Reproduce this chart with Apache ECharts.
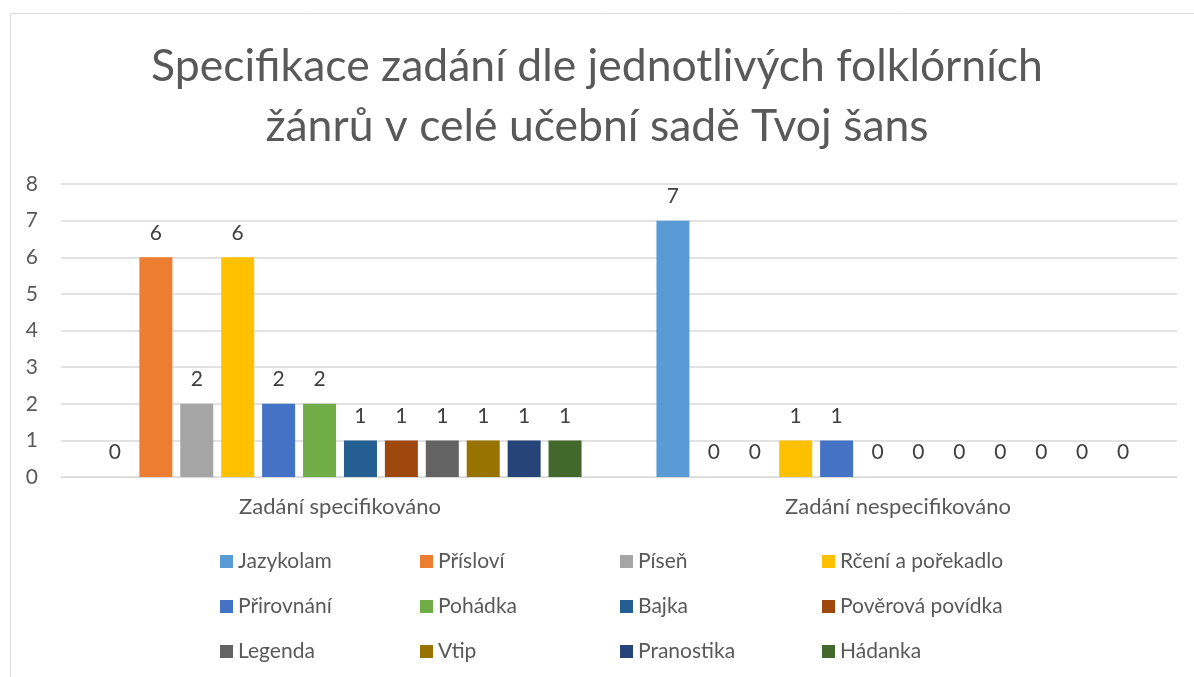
<!DOCTYPE html>
<html>
  <head>
    <meta charset="UTF-8" />
    <title>Specifikace zadání</title>
    <script src="https://cdn.jsdelivr.net/npm/echarts@6.0.0/dist/echarts.min.js"></script>
    <style>
      html, body { margin: 0; padding: 0; background: #fff; }
    </style>
  </head>
  <body>
    <div id="chart" style="width: 1194px; height: 677px"></div>
  </body>
  <script>
    const categories = ['Zadání specifikováno', 'Zadání nespecifikováno'];
    const genres = ['Jazykolam', 'Přísloví', 'Píseň', 'Rčení a pořekadlo',
      'Přirovnání', 'Pohádka', 'Bajka', 'Pověrová povídka',
      'Legenda', 'Vtip', 'Pranostika', 'Hádanka'];
    // values per genre: [specifikováno, nespecifikováno]
    const values = [
      [0, 7], [6, 0], [2, 0], [6, 1],
      [2, 1], [2, 0], [1, 0], [1, 0],
      [1, 0], [1, 0], [1, 0], [1, 0]
    ];
    const colors = ['#5B9BD5', '#ED7D31', '#A5A5A5', '#FFC000', '#4472C4', '#70AD47',
      '#255E91', '#9E480E', '#636363', '#997300', '#264478', '#43682B'];
    const yTicks = [0, 8, 1]; // min, max, interval
    const titleLines = ['Specifikace zadání dle jednotlivých folklórních', 'žánrů v celé učební sadě Tvoj šans'];

    const font = 'Lato, "Noto Sans", sans-serif';
    const chart = echarts.init(document.getElementById('chart'));

    // legend: 4 columns, 3 rows, laid out column by column
    const legends = [0, 1, 2, 3].map(col => ({
      orient: 'vertical',
      left: 215 + col * 200 + (col === 3 ? 2 : 0),
      top: 544,
      height: 200,
      itemWidth: 13,
      itemHeight: 13,
      itemGap: 20,
      icon: 'rect',
      data: [genres[col], genres[col + 4], genres[col + 8]],
      textStyle: { fontFamily: font, fontSize: 21, color: '#595959', lineHeight: 25 }
    }));

    chart.setOption({
      color: colors,
      graphic: [{
        type: 'rect',
        shape: { x: 10.5, y: 13.5, width: 1200, height: 700 },
        style: { fill: 'none', stroke: '#d9d9d9', lineWidth: 1 },
        silent: true
      }],
      title: titleLines.map((t, i) => ({
        text: t,
        left: 'center',
        top: 39 + i * 60,
        textStyle: { fontFamily: font, fontSize: 44.5, fontWeight: 'normal', color: '#595959' }
      })),
      legend: legends,
      grid: { left: 61, right: 17, top: 184, bottom: 200 },
      xAxis: {
        type: 'category',
        data: categories,
        axisLine: { lineStyle: { color: '#d9d9d9', width: 1 } },
        axisTick: { show: false },
        axisLabel: { fontFamily: font, fontSize: 22, color: '#595959', margin: 19 }
      },
      yAxis: {
        type: 'value',
        min: yTicks[0],
        max: yTicks[1],
        interval: yTicks[2],
        axisLine: { show: false },
        axisTick: { show: false },
        splitLine: { lineStyle: { color: '#d9d9d9', width: 1.5 } },
        axisLabel: { fontFamily: font, fontSize: 21, color: '#595959', margin: 23 }
      },
      series: genres.map((g, i) => ({
        name: g,
        type: 'bar',
        data: values[i],
        barWidth: 33,
        barGap: '24%',
        label: {
          show: true,
          position: 'top',
          distance: 14,
          fontFamily: font,
          fontSize: 21,
          color: '#404040'
        }
      }))
    });
  </script>
</html>
